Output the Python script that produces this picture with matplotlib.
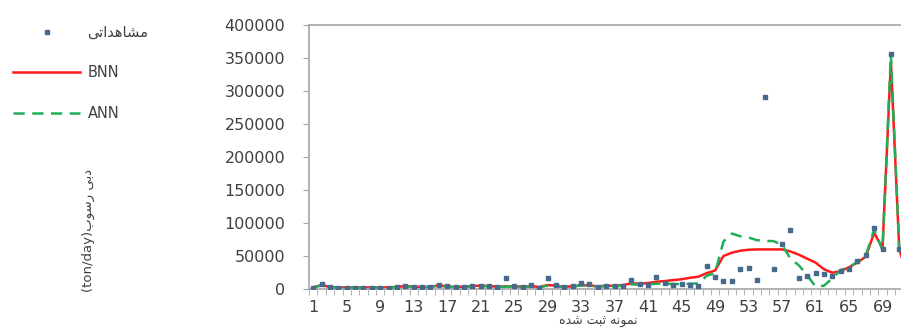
# %%
import numpy as np
import matplotlib
matplotlib.use("Agg")
import matplotlib.pyplot as plt

plt.rcParams['font.family'] = ['DejaVu Sans']

# %% data
samples = np.arange(1, 73)

observed = [
    2000, 8000, 3000, 2000, 1500, 2000, 1500, 2000, 1500, 2000,
    2500, 5000, 3000, 2500, 3000, 6000, 4000, 2500, 3000, 4500,
    5000, 4000, 3000, 17000, 4000, 3000, 6000, 2000, 16000, 6000,
    3000, 4000, 9000, 7000, 3000, 5000, 4000, 5000, 13000, 8000,
    6000, 18000, 9000, 6000, 7500, 6000, 5000, 35000, 18000, 12500,
    12500, 30000, 32000, 13600, 291000, 30700, 68000, 89000, 17000, 20000,
    25000, 22000, 19000, 27000, 31000, 42000, 51000, 92000, 61000, 356000,
    60000, 20000,
]

bnn = [
    2500, 6000, 3000, 2500, 2000, 2500, 2000, 2500, 2000, 2500,
    3000, 4500, 3500, 3000, 3500, 5500, 4000, 3000, 3500, 4500,
    5000, 4500, 3500, 4000, 4000, 3500, 4500, 3000, 6000, 5000,
    3500, 4000, 6000, 5500, 4000, 5000, 5000, 6000, 8500, 8000,
    9000, 11000, 12000, 13500, 14700, 17000, 18600, 24000, 28000, 50000,
    55000, 58000, 59500, 60000, 60000, 60000, 60000, 57000, 52000, 46000,
    40000, 30000, 24700, 27000, 33000, 40000, 49000, 85000, 62000, 345000,
    60000, 20000,
]

ann = [
    2000, 5500, 2500, 2000, 1500, 2000, 1500, 2000, 1500, 2000,
    2500, 4000, 3000, 2500, 3000, 5000, 3500, 2500, 3000, 4000,
    4500, 4000, 3000, 3500, 3500, 3000, 4000, 2500, 5000, 4000,
    3000, 3500, 5500, 5000, 3500, 4500, 4000, 5000, 7000, 6500,
    7000, 8000, 8000, 7500, 7500, 8000, 8600, 20000, 24000, 72000,
    84000, 80000, 78000, 74000, 73000, 72500, 67000, 46000, 36000, 21000,
    3500, 5000, 16000, 28800, 33000, 41000, 51000, 90000, 59000, 356000,
    60000, 20000,
]

tick_cats = list(range(1, 70, 4))
y_ticks = list(range(0, 400001, 50000))

# Persian labels (presentation forms in visual order)
label_obs = "\uFEF0\uFE97\uFE8D\uFEAA\uFEEB\uFE8E\uFEB8\uFEE3"          # مشاهداتی
label_y = "(ton/day)" + "\uFE8F\uFEEE\uFEB3\uFEAD" + " " + "\uFEF0\uFE91\uFEA9"  # دبی رسوب
label_x = ("\uFEE9\uFEAA\uFEB7" + " " + "\uFE96\uFE92\uFE9B" + " "
           + "\uFEEA\uFEE7\uFEEE\uFEE4\uFEE7")                          # نمونه ثبت شده

# %% figure
fig = plt.figure(figsize=(9.01, 3.29), dpi=100)
ax = fig.add_axes([0.343, 0.1216, 0.669, 0.802])

grey = '#a6a6a6'
txt = '#404040'

ax.plot(samples, bnn, color='#ff1a1a', lw=1.8, zorder=2, label='BNN')
ax.plot(samples, ann, color='#1fae5a', lw=1.8, ls=(0, (4.5, 3)), zorder=3, label='ANN')
ax.plot(samples, observed, ls='none', marker='s', ms=2.8, color='#46698c',
        zorder=4, label=label_obs)

ax.set_xlim(0.5, 72.5)
ax.set_ylim(0, 400000)

ax.set_yticks(y_ticks)
ax.set_yticklabels([str(v) for v in y_ticks])
ax.set_xticks(tick_cats)
ax.set_xticks(np.arange(0.5, 73, 1), minor=True)

ax.tick_params(axis='y', which='major', length=4, color=grey, pad=13,
               labelsize=11.5, labelcolor=txt)
ax.tick_params(axis='x', which='major', length=0, pad=8,
               labelsize=11.5, labelcolor=txt)
ax.tick_params(axis='x', which='minor', length=4, color=grey, direction='out')

for s in ['top', 'left', 'bottom', 'right']:
    ax.spines[s].set_color(grey)
    ax.spines[s].set_linewidth(1.2)

ax.set_xlabel(label_x, fontsize=9, color=txt)
ax.xaxis.set_label_coords(0.48, -0.1)

fig.text(88 / 901, 1 - 230 / 329, label_y, rotation=90, ha='center', va='center',
         fontsize=9.5, color=txt)

handles, labels = ax.get_legend_handles_labels()
order = [2, 0, 1]
fig.legend([handles[i] for i in order], [labels[i] for i in order],
           loc='upper left', bbox_to_anchor=(0.0, 0.965), frameon=False,
           handlelength=4.6, handletextpad=0.5, labelspacing=1.75,
           fontsize=10.5, labelcolor=txt)

fig.savefig('out.png', dpi=100)
